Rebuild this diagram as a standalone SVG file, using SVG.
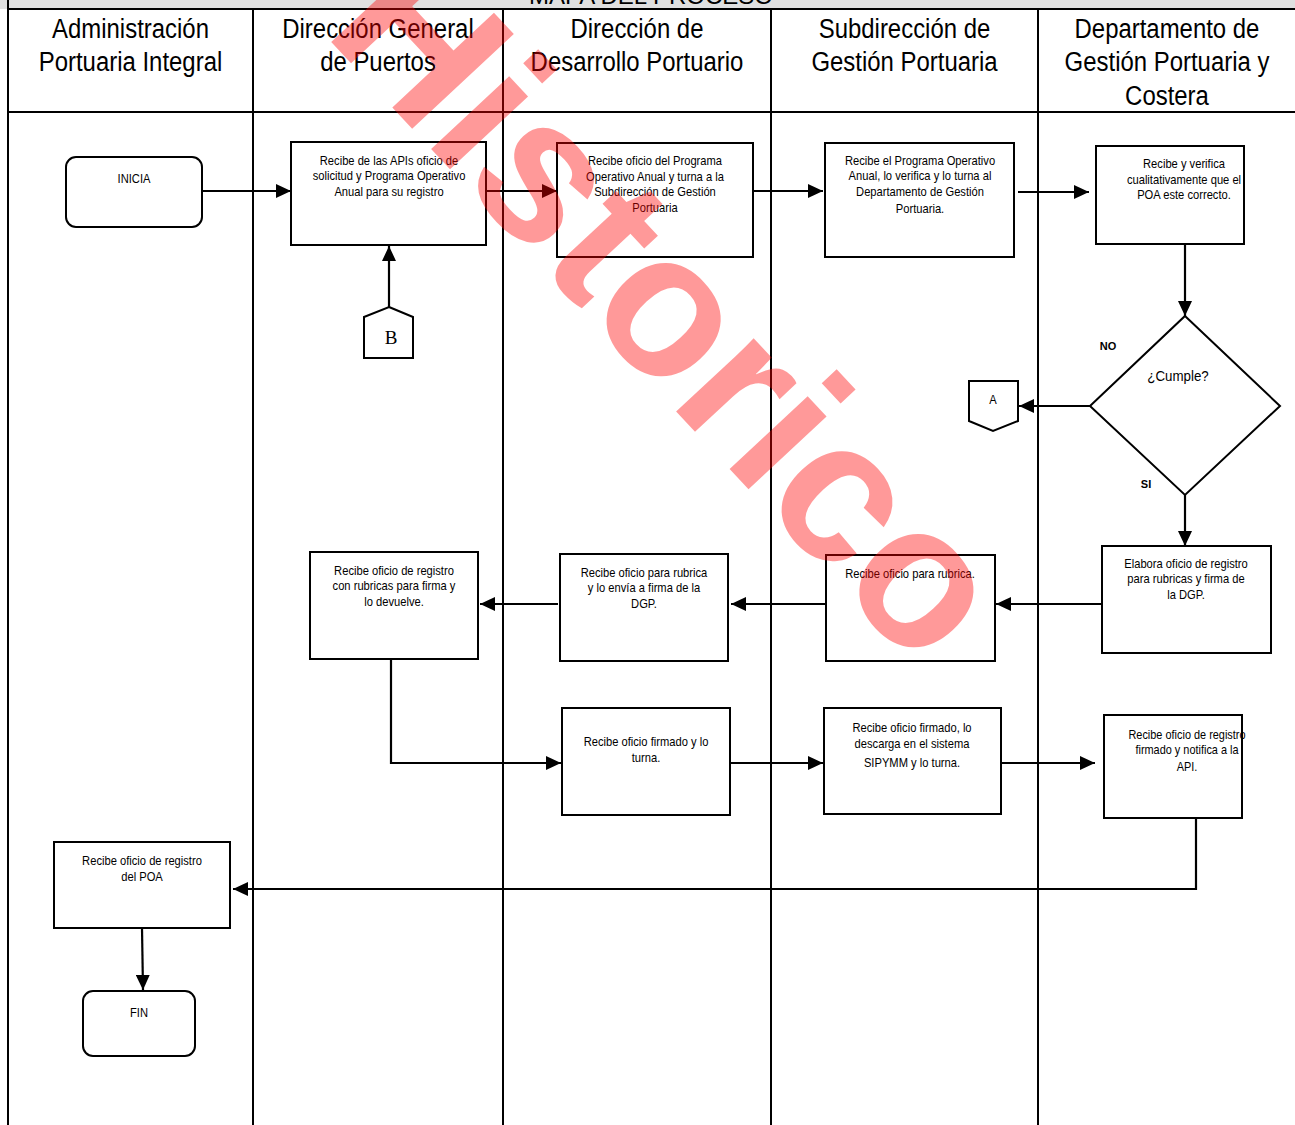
<svg xmlns="http://www.w3.org/2000/svg" width="1295" height="1125" viewBox="0 0 1295 1125">
<style>
.frame{stroke:#000;stroke-width:2;fill:none}
.box{fill:#fff;stroke:#000;stroke-width:2}
.h{font-family:"Liberation Sans",Arial,sans-serif;font-size:28px;fill:#000;text-anchor:middle}
.n{font-family:"Liberation Sans",Arial,sans-serif;font-size:13px;fill:#000;text-anchor:middle}
.q{font-family:"Liberation Sans",Arial,sans-serif;font-size:15.5px;fill:#000;text-anchor:middle}
.lbl{font-family:"Liberation Sans",Arial,sans-serif;font-size:11px;font-weight:bold;fill:#000;text-anchor:middle}
.c{stroke:#000;stroke-width:2.2;fill:none;marker-end:url(#ah)}
</style>
<defs>
<marker id="ah" markerUnits="userSpaceOnUse" markerWidth="16" markerHeight="14" refX="15" refY="7" orient="auto">
<path d="M0,0 L15,7 L0,14 z" fill="#000"/>
</marker>
</defs>
<rect x="0" y="0" width="1295" height="1125" fill="#fff"/>
<g id="frame">
<rect x="0" y="0" width="1295" height="9" fill="#e0e0e0"/>
<text x="651" y="4" font-family="Liberation Sans,Arial,sans-serif" font-size="24" text-anchor="middle" fill="#000">MAPA DEL PROCESO</text>
<line class="frame" x1="8" y1="9" x2="1295" y2="9"/>
<line class="frame" x1="8" y1="112" x2="1295" y2="112"/>
<line class="frame" x1="8" y1="0" x2="8" y2="1125"/>
<line class="frame" x1="253" y1="9" x2="253" y2="1125"/>
<line class="frame" x1="503" y1="9" x2="503" y2="1125"/>
<line class="frame" x1="771" y1="9" x2="771" y2="1125"/>
<line class="frame" x1="1038" y1="9" x2="1038" y2="1125"/>
<text class="h" transform="translate(130.5 0) scale(0.855 1)"><tspan x="0" y="38">Administración</tspan><tspan x="0" y="71">Portuaria Integral</tspan></text>
<text class="h" transform="translate(378 0) scale(0.855 1)"><tspan x="0" y="38">Dirección General</tspan><tspan x="0" y="71">de Puertos</tspan></text>
<text class="h" transform="translate(637 0) scale(0.855 1)"><tspan x="0" y="38">Dirección de</tspan><tspan x="0" y="71">Desarrollo Portuario</tspan></text>
<text class="h" transform="translate(904.5 0) scale(0.855 1)"><tspan x="0" y="38">Subdirección de</tspan><tspan x="0" y="71">Gestión Portuaria</tspan></text>
<text class="h" transform="translate(1167 0) scale(0.855 1)"><tspan x="0" y="38">Departamento de</tspan><tspan x="0" y="71">Gestión Portuaria y</tspan><tspan x="0" y="105">Costera</tspan></text>
</g>
<g id="connectors">
<path class="c" d="M202,191 H291"/>
<path class="c" d="M486,191 H557"/>
<path class="c" d="M753,191 H823"/>
<path class="c" d="M1018,192 H1089"/>
<path class="c" d="M1185,244 V316"/>
<path class="c" d="M1090,406 H1019"/>
<path class="c" d="M1185,495 V546"/>
<path class="c" d="M1105,604 H996"/>
<path class="c" d="M828,604 H731"/>
<path class="c" d="M558,604 H480"/>
<path class="c" d="M389,308 V246"/>
<path class="c" d="M391,659 V763 H561"/>
<path class="c" d="M730,763 H823"/>
<path class="c" d="M1001,763 H1095"/>
<path class="c" d="M1196,818 V889 H233"/>
<path class="c" d="M142,928 L143,990"/>
</g>
<g id="inicia">
<rect class="box" x="66" y="157" width="136" height="70" rx="10"/>
<text class="n" transform="translate(134 0) scale(0.86 1)"><tspan x="0" y="183">INICIA</tspan></text>
</g>
<g id="n1">
<rect class="box" x="291" y="142" width="195" height="103"/>
<text class="n" transform="translate(389 0) scale(0.86 1)"><tspan x="0" y="165">Recibe de las APIs oficio de</tspan><tspan x="0" y="180.5">solicitud y Programa Operativo</tspan><tspan x="0" y="196">Anual para su registro</tspan></text>
</g>
<g id="n2">
<rect class="box" x="557" y="143" width="196" height="114"/>
<text class="n" transform="translate(655 0) scale(0.86 1)"><tspan x="0" y="165">Recibe oficio del Programa</tspan><tspan x="0" y="181">Operativo Anual y turna a la</tspan><tspan x="0" y="196">Subdirección de Gestión</tspan><tspan x="0" y="212">Portuaria</tspan></text>
</g>
<g id="n3">
<rect class="box" x="825" y="143" width="189" height="114"/>
<text class="n" transform="translate(920 0) scale(0.86 1)"><tspan x="0" y="165">Recibe el Programa Operativo</tspan><tspan x="0" y="180.5">Anual, lo verifica y lo turna al</tspan><tspan x="0" y="196">Departamento de Gestión</tspan><tspan x="0" y="213">Portuaria.</tspan></text>
</g>
<g id="n4">
<rect class="box" x="1096" y="146" width="148" height="98"/>
<text class="n" transform="translate(1184 0) scale(0.86 1)"><tspan x="0" y="168">Recibe y verifica</tspan><tspan x="0" y="184">cualitativamente que el</tspan><tspan x="0" y="199.5">POA este correcto.</tspan></text>
</g>
<g id="decision">
<polygon class="box" points="1185,316 1280,406 1185,495 1090,406"/>
<text class="q" transform="translate(1178 0) scale(0.86 1)"><tspan x="0" y="381">¿Cumple?</tspan></text>
<text class="lbl" x="1108" y="350">NO</text>
<text class="lbl" x="1146" y="488">SI</text>
</g>
<g id="conA">
<polygon class="box" points="969,381 1018,381 1018,421 993,431 969,421"/>
<text class="n" transform="translate(993 0) scale(0.86 1)"><tspan x="0" y="404">A</tspan></text>
</g>
<g id="conB">
<polygon class="box" points="389,307 413,317 413,358 364,358 364,317"/>
<text x="391" y="344" font-family="Liberation Serif,Times New Roman,serif" font-size="19" text-anchor="middle" fill="#000">B</text>
</g>
<g id="n5">
<rect class="box" x="1102" y="546" width="169" height="107"/>
<text class="n" transform="translate(1186 0) scale(0.86 1)"><tspan x="0" y="568">Elabora oficio de registro</tspan><tspan x="0" y="583.5">para rubricas y firma de</tspan><tspan x="0" y="599">la DGP.</tspan></text>
</g>
<g id="n6">
<rect class="box" x="826" y="555" width="169" height="106"/>
<text class="n" transform="translate(910 0) scale(0.86 1)"><tspan x="0" y="578">Recibe oficio para rubrica.</tspan></text>
</g>
<g id="n7">
<rect class="box" x="560" y="554" width="168" height="107"/>
<text class="n" transform="translate(644 0) scale(0.86 1)"><tspan x="0" y="577">Recibe oficio para rubrica</tspan><tspan x="0" y="592">y lo envía a firma de la</tspan><tspan x="0" y="608">DGP.</tspan></text>
</g>
<g id="n8">
<rect class="box" x="310" y="552" width="168" height="107"/>
<text class="n" transform="translate(394 0) scale(0.86 1)"><tspan x="0" y="575">Recibe oficio de registro</tspan><tspan x="0" y="590.5">con rubricas para firma y</tspan><tspan x="0" y="606">lo devuelve.</tspan></text>
</g>
<g id="n9">
<rect class="box" x="562" y="708" width="168" height="107"/>
<text class="n" transform="translate(646 0) scale(0.86 1)"><tspan x="0" y="746">Recibe oficio firmado y lo</tspan><tspan x="0" y="762">turna.</tspan></text>
</g>
<g id="n10">
<rect class="box" x="824" y="708" width="177" height="106"/>
<text class="n" transform="translate(912 0) scale(0.86 1)"><tspan x="0" y="732">Recibe oficio firmado, lo</tspan><tspan x="0" y="748.5">descarga en el sistema</tspan><tspan x="0" y="767">SIPYMM y lo turna.</tspan></text>
</g>
<g id="n11">
<rect class="box" x="1104" y="715" width="138" height="103"/>
<text class="n" transform="translate(1187 0) scale(0.84 1)"><tspan x="0" y="739">Recibe oficio de registro</tspan><tspan x="0" y="754">firmado y notifica a la</tspan><tspan x="0" y="771">API.</tspan></text>
</g>
<g id="n12">
<rect class="box" x="54" y="842" width="176" height="86"/>
<text class="n" transform="translate(142 0) scale(0.86 1)"><tspan x="0" y="865">Recibe oficio de registro</tspan><tspan x="0" y="881">del POA</tspan></text>
</g>
<g id="fin">
<rect class="box" x="83" y="991" width="112" height="65" rx="10"/>
<text class="n" transform="translate(139 0) scale(0.86 1)"><tspan x="0" y="1017">FIN</tspan></text>
</g>
<text x="322" y="32" transform="rotate(47 322 32)" font-family="Liberation Sans,Arial,sans-serif" font-weight="bold" font-size="202" fill="#ff0000" fill-opacity="0.4">Historico</text>
</svg>
